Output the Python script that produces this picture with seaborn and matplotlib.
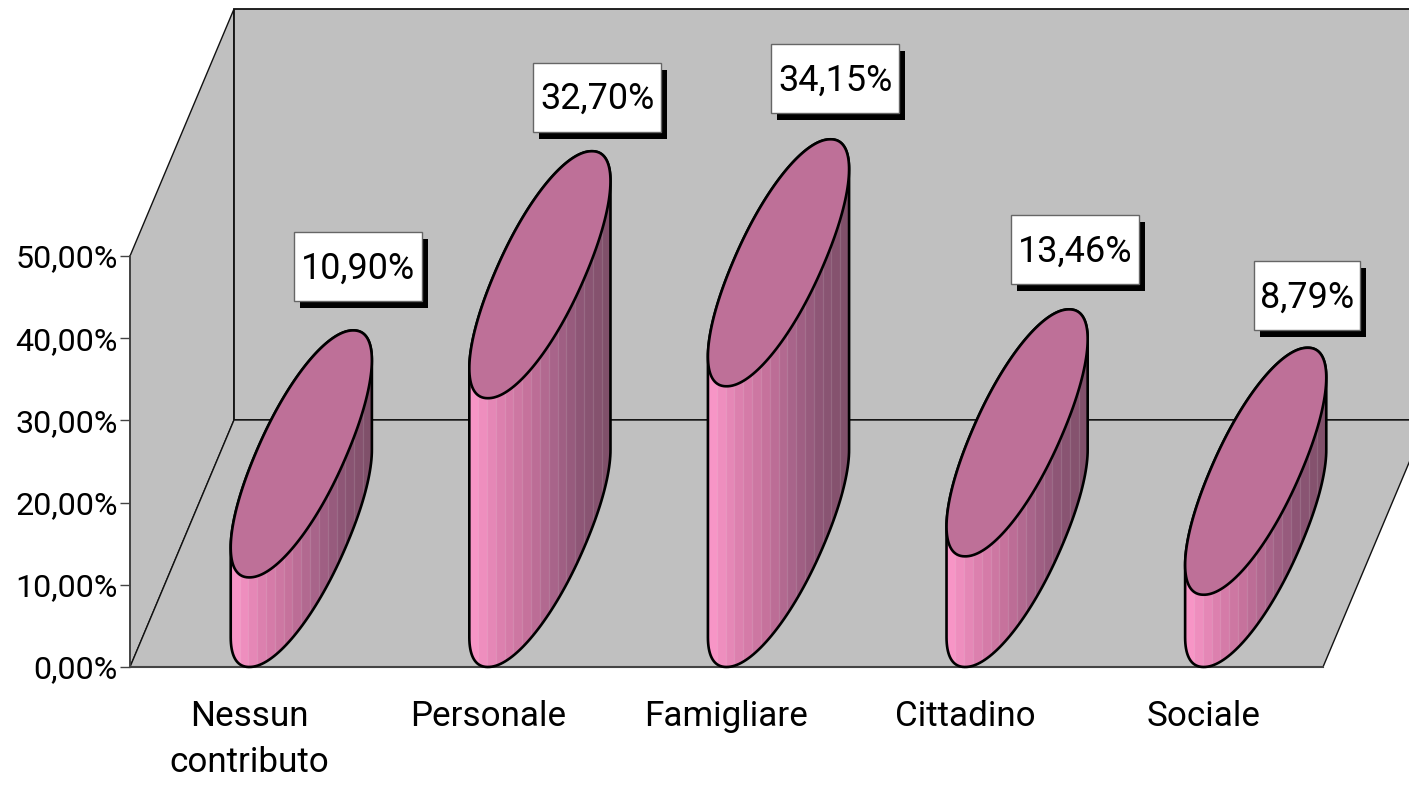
import numpy as np
import pandas as pd
import seaborn as sns
import matplotlib
matplotlib.use('Agg')
import matplotlib.pyplot as plt
from matplotlib.colors import LinearSegmentedColormap
from matplotlib.patches import Polygon, Rectangle

categories = ['Nessun\ncontributo', 'Personale', 'Famigliare', 'Cittadino', 'Sociale']
values = [10.90, 32.70, 34.15, 13.46, 8.79]
value_labels = ['10,90%', '32,70%', '34,15%', '13,46%', '8,79%']
y_ticks = [0, 10, 20, 30, 40, 50]
y_tick_labels = ['0,00%', '10,00%', '20,00%', '30,00%', '40,00%', '50,00%']

sns.set_theme(style='white')
plt.rcParams['font.family'] = ['Roboto', 'Liberation Sans', 'DejaVu Sans']

PX_X = 238.6   # pixels per category
PX_Y = 8.22    # pixels per percent
depth_x = 104 / PX_X
depth_y = 247 / PX_Y
GREY = '#c0c0c0'
TOP = '#be7098'
pink = LinearSegmentedColormap.from_list('pink3d', ['#f795c6', '#dc80ae', '#c6729c', '#a8648a', '#8e5676', '#80506a'])

fig = plt.figure(figsize=(14.09, 7.85), dpi=100)
ax = fig.add_axes([0, 0, 1, 1])
ax.patch.set_visible(False)

df = pd.DataFrame({'cat': categories, 'val': values})
sns.barplot(data=df, x='cat', y='val', width=0.385, color=TOP, ax=ax, zorder=5)
ax.set_xlim(-0.5 - 130 / PX_X, -0.5 + (1409 - 130) / PX_X)
ax.set_ylim(-(785 - 667) / PX_Y, 667 / PX_Y)
ax.set_xlabel('')
ax.set_ylabel('')

# walls and floor
x0, x1 = -0.5, 4.5
floor = [(x0, 0), (x1, 0), (x1 + depth_x, depth_y), (x0 + depth_x, depth_y)]
side = [(x0, 0), (x0 + depth_x, depth_y), (x0 + depth_x, depth_y + 50), (x0, 50)]
back = [(x0 + depth_x, depth_y), (x1 + depth_x, depth_y), (x1 + depth_x, depth_y + 50), (x0 + depth_x, depth_y + 50)]
for pts, lw in ((side, 1.0), (back, 1.3), (floor, 1.0)):
    ax.add_patch(Polygon(pts, closed=True, facecolor=GREY, edgecolor='#111111', lw=lw, zorder=1))

# the seaborn bars give the front face, each one becomes a cylinder
P = 0.95   # a little fuller than a true ellipse
t = np.linspace(0, 1, 80)
for bar in list(ax.patches):
    if not isinstance(bar, Rectangle):
        continue
    bar.set_visible(False)
    left, w, h = bar.get_x(), bar.get_width(), bar.get_height()
    ux, vx, vy = w / 2, depth_x / 2, depth_y / 2
    cx = left + w / 2 + vx
    t_r = np.arctan2(vx, ux)

    def ellipse(level, angles):
        c = np.sign(np.cos(angles)) * np.abs(np.cos(angles)) ** P
        s = np.sign(np.sin(angles)) * np.abs(np.sin(angles)) ** P
        return cx + ux * c + vx * s, level + vy + vy * s

    low_x, low_y = ellipse(0, t_r - np.pi * t)
    up_x, up_y = ellipse(h, t_r + np.pi - np.pi * t)
    body = Polygon(np.column_stack([np.r_[low_x, up_x], np.r_[low_y, up_y]]), closed=True,
                   facecolor='none', edgecolor='black', lw=1.9, zorder=7)
    ax.add_patch(body)

    # vertical shading strips
    n = 16
    edges = np.linspace(low_x.min(), low_x.max(), n + 1)
    shade = np.linspace(0, 1, n).reshape(1, -1)
    mesh = ax.pcolormesh(edges, [0, h + depth_y], shade, cmap=pink, shading='flat', zorder=6)
    mesh.set_clip_path(body)
    strip_lines = ax.vlines(edges[1:-1], 0, h + depth_y, color='white', alpha=0.13, lw=0.9, zorder=6.5)
    strip_lines.set_clip_path(body)

    a = np.linspace(0, 2 * np.pi, 160)
    top_x, top_y = ellipse(h, a)
    ax.add_patch(Polygon(np.column_stack([top_x, top_y]), closed=True, facecolor=TOP,
                         edgecolor='black', lw=1.9, zorder=8))

# data labels, white box with hard shadow
label_dx = [108.5, 109.4, 108.8, 109.7, 103.0]
label_dy = [311, 301, 308, 307, 299]
box_w = [128, 128, 128, 128, 106]
for i, (val, txt) in enumerate(zip(values, value_labels)):
    bx = i + label_dx[i] / PX_X
    by = val + label_dy[i] / PX_Y
    bw, bh = box_w[i] / PX_X, 69 / PX_Y
    ax.add_patch(Rectangle((bx - bw / 2 + 6 / PX_X, by - bh / 2 - 7 / PX_Y), bw, bh,
                           facecolor='black', edgecolor='none', zorder=9))
    ax.add_patch(Rectangle((bx - bw / 2, by - bh / 2), bw, bh,
                           facecolor='white', edgecolor='#666666', lw=1.0, zorder=10))
    ax.text(bx, by + 2 / PX_Y, txt, ha='center', va='center_baseline', fontsize=25.9, color='black', zorder=11)

# axes
for s in ('top', 'right'):
    ax.spines[s].set_visible(False)
ax.spines['left'].set_position(('data', x0))
ax.spines['left'].set_bounds(0, 50)
ax.spines['bottom'].set_position(('data', 0))
ax.spines['bottom'].set_bounds(x0, x1)
ax.spines['left'].set_color('#444444')
ax.spines['bottom'].set_color('#444444')
ax.spines['bottom'].set_linewidth(1.5)
ax.spines['bottom'].set_zorder(2)
ax.set_yticks(y_ticks, y_tick_labels)
ax.set_xticks(range(len(categories)), categories, linespacing=1.52)
ax.tick_params(axis='y', left=True, length=7.5, width=1.0, color='#444444', pad=1.5, labelsize=23.2, labelcolor='black')
ax.tick_params(axis='x', bottom=False, length=0, pad=23.5, labelsize=25.2, labelcolor='black')

fig.savefig('out.png', dpi=100)
